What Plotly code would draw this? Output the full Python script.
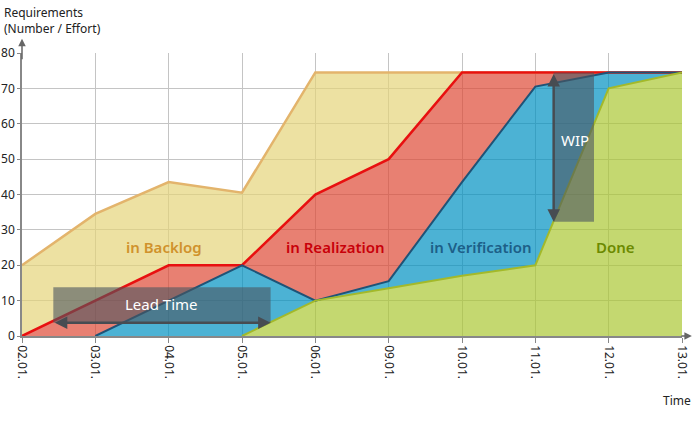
import plotly.graph_objects as go

## Donnees ------------------------------------------------------------------------------------------------

dates = ["02.01.", "03.01.", "04.01.", "05.01.", "06.01.", "09.01.", "10.01.", "11.01.", "12.01.", "13.01."]

total = [20, 34.5, 43.5, 40.5, 74.5, 74.5, 74.5, 74.5, 74.5, 74.5]          # in Backlog (top)
realisation = [0, 10, 20, 20, 40, 50, 74.5, 74.5, 74.5, 74.5]              # started
verification = [None, 0, 10, 20, 10, 15.5, 43.5, 70.5, 74.5, 74.5]
done = [None, None, None, 0, 10, 13.5, 17, 20, 70, 74.5]

zones = ["in Backlog", "in Realization", "in Verification", "Done"]
zone_pos = [1.93, 4.27, 6.26, 8.09]
zone_y = [25.3, 25.3, 25.3, 25.3]

lead_box = [0.427, 3.39, 3.76, 13.8]     # x0, x1, y0, y1
wip_box = [7.25, 7.80, 32.3, 74.5]

y_ticks = [0, 10, 20, 30, 40, 50, 60, 70, 80]

## Couleurs ------------------------------------------------------------------------------------------------

fill_cols = ["rgba(229,212,122,0.7)", "rgba(222,74,54,0.7)", "rgba(0,146,194,0.7)", "rgba(171,199,51,0.7)"]
line_cols = ["#E3B46C", "#E81010", "#1F5377", "#A3B92A"]
text_cols = ["#D0922C", "#C8000A", "#1D5F88", "#6C8A00"]


def below(upper, lower):
    return [l if l is not None else 0 for u, l in zip(upper, lower)]


fig = go.Figure()

# zones remplies (polygones haut + bas inverse)
lowers = [realisation, below(realisation, verification), below(verification, done), [0] * len(dates)]
uppers = [total, realisation, verification, done]

for up, lo, col in zip(uppers, lowers, fill_cols):
    xs = [d for d, u in zip(dates, up) if u is not None]
    ys_up = [u for u in up if u is not None]
    ys_lo = [l for u, l in zip(up, lo) if u is not None]
    fig.add_trace(go.Scatter(x=xs + xs[::-1], y=ys_up + ys_lo[::-1], fill="toself",
                             fillcolor=col, mode="none", hoverinfo="skip", showlegend=False))

for up, col, w in zip(uppers, line_cols, [2.5, 2.5, 2, 2]):
    xs = [d for d, u in zip(dates, up) if u is not None]
    ys = [u for u in up if u is not None]
    fig.add_trace(go.Scatter(x=xs, y=ys, mode="lines", line=dict(color=col, width=w), showlegend=False))

# boites Lead Time / WIP
for b in [lead_box, wip_box]:
    fig.add_shape(type="rect", xref="x", yref="y", x0=b[0], x1=b[1], y0=b[2], y1=b[3],
                  fillcolor="rgba(75,85,95,0.6)", line=dict(width=0), layer="above")

fig.add_annotation(x=lead_box[1], y=lead_box[2], ax=lead_box[0], ay=lead_box[2], xref="x", yref="y",
                   axref="x", ayref="y", text="", showarrow=True, arrowhead=2, arrowside="end+start",
                   arrowsize=1, arrowwidth=2.5, arrowcolor="#474C52")
fig.add_annotation(x=wip_box[0], y=wip_box[2], ax=wip_box[0], ay=wip_box[3], xref="x", yref="y",
                   axref="x", ayref="y", text="", showarrow=True, arrowhead=2, arrowside="end+start",
                   arrowsize=1, arrowwidth=2.5, arrowcolor="#474C52")

fig.add_annotation(x=(lead_box[0] + lead_box[1]) / 2, y=9.0, text="Lead Time", showarrow=False,
                   font=dict(size=15, color="white", family="Noto Sans"))
fig.add_annotation(x=7.54, y=55.5, text="WIP", showarrow=False,
                   font=dict(size=15, color="white", family="Noto Sans"))

for z, xp, yp, c in zip(zones, zone_pos, zone_y, text_cols):
    fig.add_annotation(x=xp, y=yp, text=z, showarrow=False,
                       font=dict(size=15, color=c, family="Noto Sans", weight=600))

# fleches des axes
fig.add_annotation(xref="paper", yref="paper", x=0, y=1.05, ax=0, ay=22, text="", showarrow=True,
                   arrowhead=2, arrowsize=1, arrowwidth=1.5, arrowcolor="#666666")
fig.add_annotation(xref="paper", yref="paper", x=1.015, y=0, ax=-12, ay=0, text="", showarrow=True,
                   arrowhead=2, arrowsize=1, arrowwidth=1.5, arrowcolor="#666666")

fig.add_annotation(xref="paper", yref="paper", x=-0.03, y=1.18, xanchor="left", yanchor="top", align="left",
                   text="Requirements<br>(Number / Effort)", showarrow=False,
                   font=dict(size=12, color="#222222", family="Noto Sans"))
fig.add_annotation(xref="paper", yref="paper", x=1.017, y=-0.265, xanchor="right", text="Time",
                   showarrow=False, font=dict(size=12, color="#222222", family="Noto Sans"))

fig.update_xaxes(type="category", categoryorder="array", categoryarray=dates, range=[0, 9],
                 tickangle=90, showgrid=True, gridcolor="#C4C4C4", gridwidth=1, automargin=False,
                 showline=True, linecolor="#888888", linewidth=1.5, ticks="outside", ticklen=5,
                 tickcolor="#888888", tickfont=dict(size=12, color="#222222", family="Noto Sans"),
                 zeroline=False)
fig.update_yaxes(range=[0, 80], tickvals=y_ticks, showgrid=True, gridcolor="#C4C4C4", gridwidth=1,
                 automargin=False, showline=True, linecolor="#888888", linewidth=1.5, ticks="outside",
                 ticklen=3, tickcolor="#888888", tickfont=dict(size=12, color="#222222", family="Noto Sans"),
                 zeroline=False)

fig.update_layout(width=700, height=423, margin=dict(l=22, r=18, t=53, b=87),
                  plot_bgcolor="white", paper_bgcolor="white", showlegend=False)

# pas de marge de page autour du graphique, pas de barre d'outils
fig.write_html("out.html", config={"displayModeBar": False},
               post_script="document.body.style.margin='0';")
